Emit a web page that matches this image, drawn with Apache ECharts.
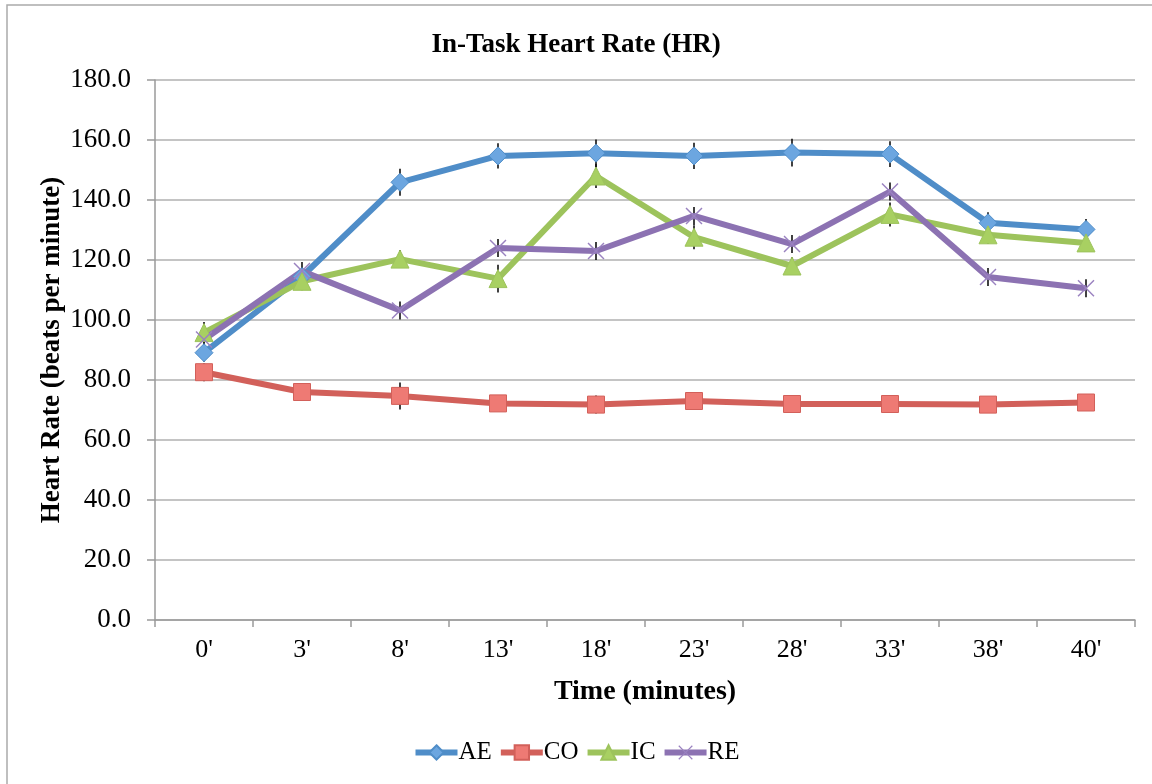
<!DOCTYPE html>
<html>
<head>
<meta charset="utf-8">
<script src="https://cdn.jsdelivr.net/npm/echarts@6/dist/echarts.min.js"></script>
<style>
html,body{margin:0;padding:0;background:#fff;}
#main{width:1152px;height:784px;}
</style>
</head>
<body>
<div id="main"></div>
<script>
const categories = ["0'", "3'", "8'", "13'", "18'", "23'", "28'", "33'", "38'", "40'"];
const AE = [89.1, 114.5, 145.9, 154.7, 155.6, 154.7, 155.8, 155.3, 132.4, 130.2];
const CO = [82.6, 76.0, 74.7, 72.2, 71.8, 73.0, 72.0, 72.0, 71.8, 72.5];
const IC = [95.8, 112.9, 120.3, 113.8, 148.0, 127.6, 118.0, 135.2, 128.4, 125.7];
const RE = [93.5, 116.3, 103.2, 124.0, 123.0, 134.7, 125.3, 142.8, 114.3, 110.6];
const AE_err = [3, 3, 4.5, 4.2, 4.6, 4.4, 4.6, 4.3, 3.5, 3.5];
const CO_err = [3, 2, 4.5, 2.5, 3, 3, 2.5, 3, 2.5, 2];
const IC_err = [3.5, 3, 3, 4.6, 4, 4, 3, 4, 3, 3];
const RE_err = [3, 3, 3, 3, 3, 3, 3, 3, 3, 3];
const yTicks = {min: 0, max: 180, interval: 20};

const serif = '"Liberation Serif", "Times New Roman", serif';
const xPath = 'path://M0,1.2 L1.2,0 L10,8.8 L18.8,0 L20,1.2 L11.2,10 L20,18.8 L18.8,20 L10,11.2 L1.2,20 L0,18.8 L8.8,10 Z';

const defs = [
  {name: 'AE', data: AE, err: AE_err, color: '#4F8DC8', mcolor: '#6CA6E0', symbol: 'diamond', size: 18},
  {name: 'CO', data: CO, err: CO_err, color: '#D2605A', mcolor: '#EE7A74', symbol: 'rect', size: 17},
  {name: 'IC', data: IC, err: IC_err, color: '#9DC35C', mcolor: '#A8D062', symbol: 'triangle', size: 18},
  {name: 'RE', data: RE, err: RE_err, color: '#8C72B2', mcolor: '#9A82C0', symbol: xPath, size: 17}
];

const series = [];
defs.forEach(d => {
  series.push({
    type: 'custom',
    name: d.name + '_err',
    silent: true,
    z: 3,
    data: d.data.map((v, i) => [i, v - d.err[i], v + d.err[i]]),
    renderItem: function (params, api) {
      const lo = api.coord([api.value(0), api.value(1)]);
      const hi = api.coord([api.value(0), api.value(2)]);
      return {
        type: 'line',
        shape: {x1: lo[0], y1: lo[1], x2: hi[0], y2: hi[1]},
        style: {stroke: '#111', lineWidth: 1.6}
      };
    }
  });
});
defs.forEach(d => {
  series.push({
    type: 'line',
    name: d.name,
    data: d.data,
    z: 4,
    symbol: d.symbol,
    symbolSize: d.size,
    showAllSymbol: true,
    lineStyle: {color: d.color, width: 6},
    itemStyle: d.name === 'RE'
      ? {color: d.mcolor, borderWidth: 0}
      : {color: d.mcolor, borderColor: d.color, borderWidth: 1},
    emphasis: {disabled: true},
    animation: false
  });
});

const chart = echarts.init(document.getElementById('main'), null, {renderer: 'canvas'});
chart.setOption({
  animation: false,
  backgroundColor: '#ffffff',
  title: {
    text: 'In-Task Heart Rate (HR)',
    left: 'center',
    top: 27,
    textStyle: {fontFamily: serif, fontWeight: 'bold', fontSize: 27, color: '#000'}
  },
  legend: {
    bottom: 14,
    left: 'center',
    itemWidth: 42,
    itemHeight: 18,
    itemGap: 6,
    data: defs.map(d => ({name: d.name, lineStyle: {width: 6, color: d.color}})),
    textStyle: {fontFamily: serif, fontSize: 25, color: '#000', padding: [0, 0, 0, -4]}
  },
  grid: {left: 155, right: 17, top: 80, bottom: 164, containLabel: false},
  xAxis: {
    type: 'category',
    data: categories,
    boundaryGap: true,
    name: 'Time (minutes)',
    nameLocation: 'middle',
    nameGap: 58,
    nameTextStyle: {fontFamily: serif, fontWeight: 'bold', fontSize: 28, color: '#000'},
    axisLine: {lineStyle: {color: '#9a9a9a', width: 1.5}},
    axisTick: {show: true, length: 7, alignWithLabel: false, lineStyle: {color: '#9a9a9a', width: 1.5}},
    axisLabel: {fontFamily: serif, fontSize: 26, color: '#000', margin: 17, interval: 0},
    splitLine: {show: false}
  },
  yAxis: {
    type: 'value',
    min: yTicks.min,
    max: yTicks.max,
    interval: yTicks.interval,
    name: 'Heart Rate (beats per minute)',
    nameLocation: 'middle',
    nameRotate: 90,
    nameGap: 89,
    nameMoveOverlap: false,
    nameTextStyle: {fontFamily: serif, fontWeight: 'bold', fontSize: 27, color: '#000'},
    axisLine: {show: true, lineStyle: {color: '#9a9a9a', width: 1.5}},
    axisTick: {show: true, length: 8, inside: false, lineStyle: {color: '#9a9a9a', width: 1.5}},
    axisLabel: {fontFamily: serif, fontSize: 27, color: '#000', margin: 24, formatter: v => v.toFixed(1)},
    splitLine: {lineStyle: {color: '#b0b0b0', width: 1.5}}
  },
  graphic: [{
    type: 'rect',
    shape: {x: 7, y: 5, width: 1160, height: 800},
    style: {fill: 'none', stroke: '#aaaaaa', lineWidth: 1.5},
    silent: true,
    z: -1
  }],
  series: series
});
</script>
</body>
</html>
